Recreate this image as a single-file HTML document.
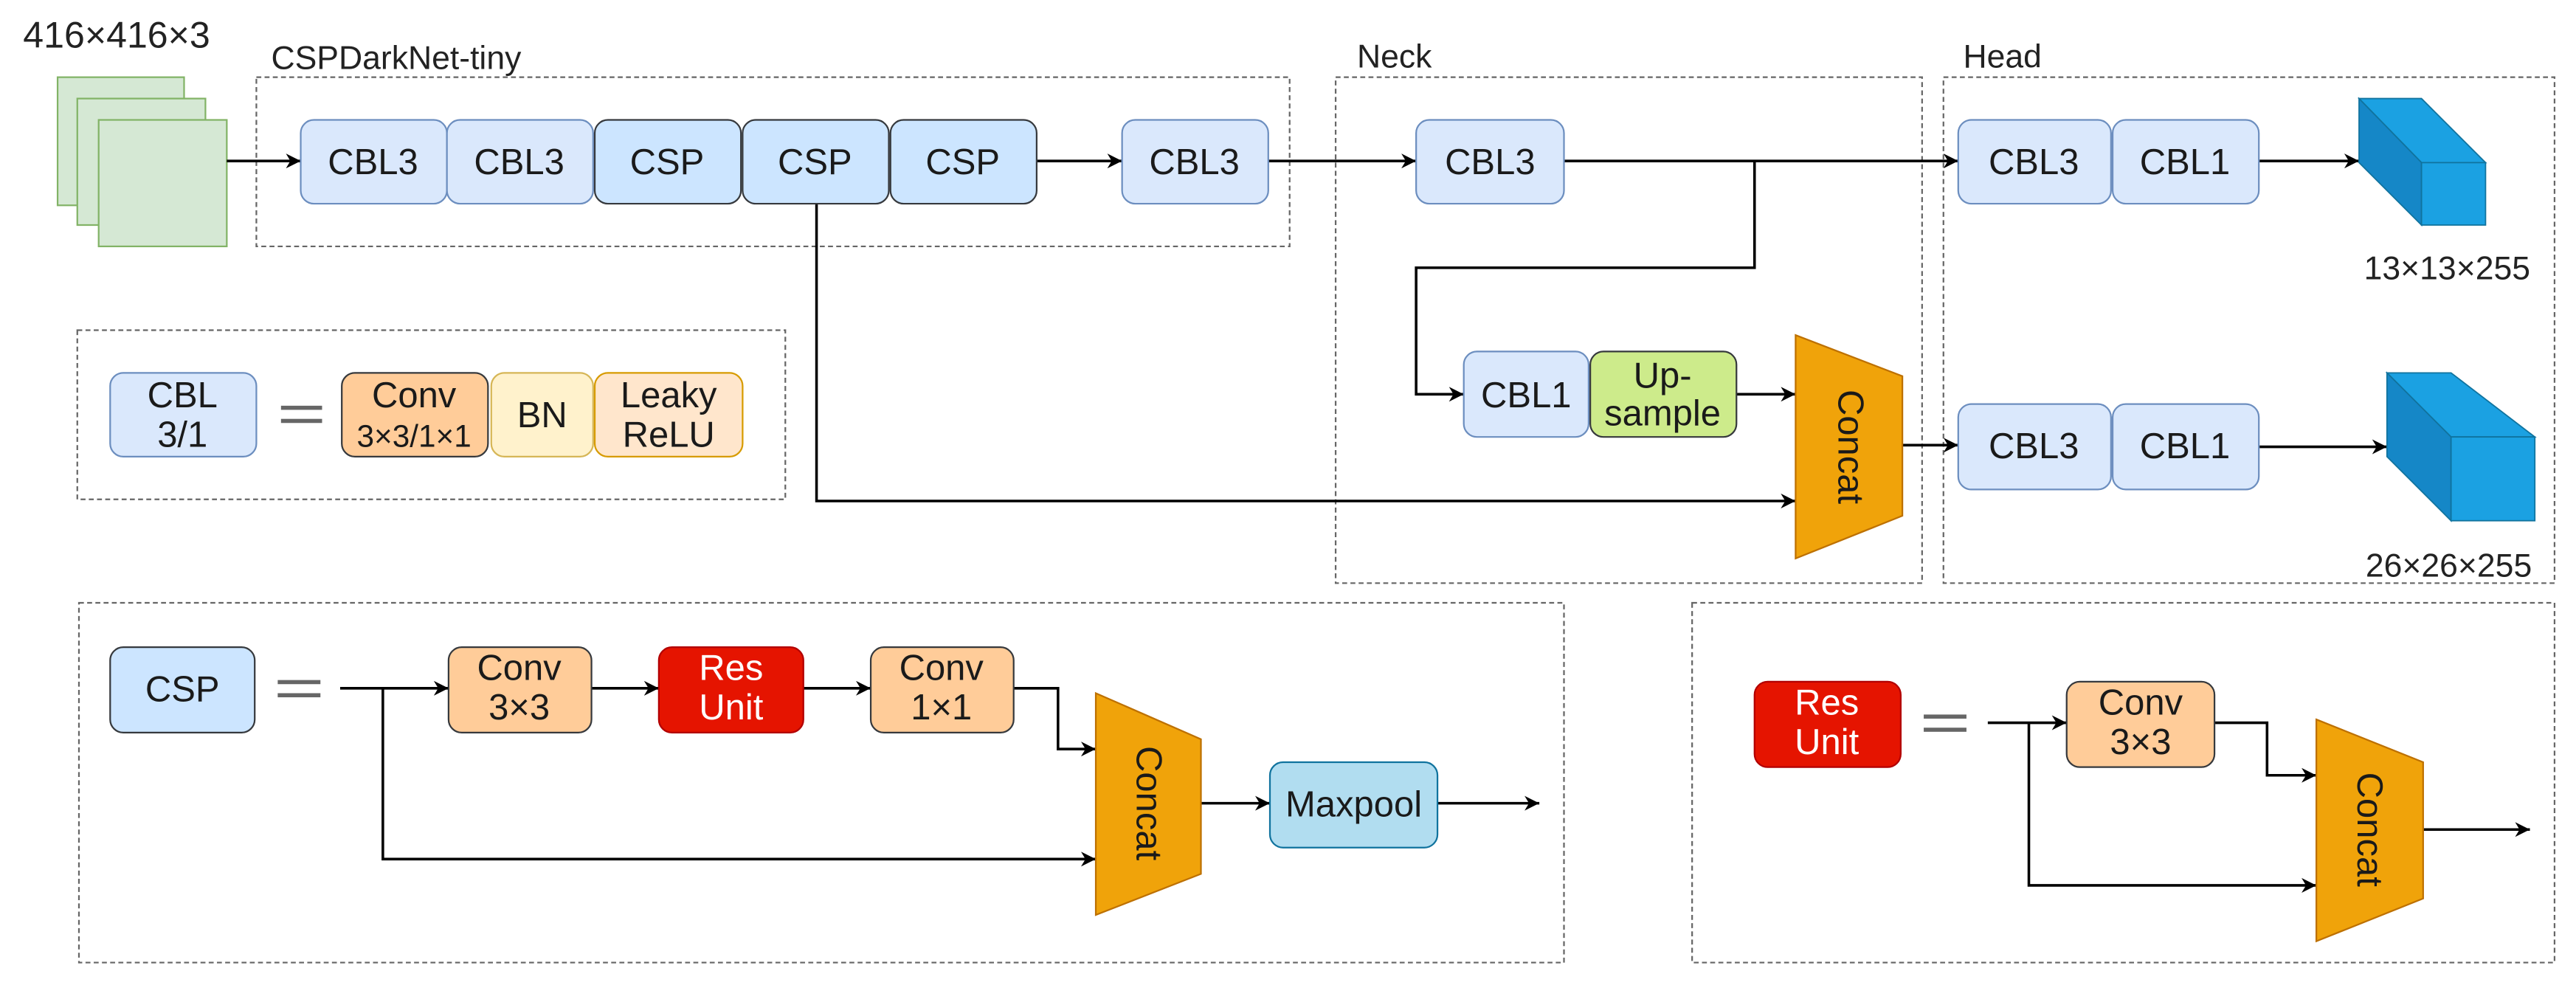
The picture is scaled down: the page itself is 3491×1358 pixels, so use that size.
<!DOCTYPE html>
<html><head><meta charset="utf-8"><style>html,body{margin:0;padding:0;background:#fff;}svg{display:block}</style></head>
<body>
<svg xmlns="http://www.w3.org/2000/svg" width="3491" height="1358" viewBox="0 0 1568 610" font-family="Liberation Sans, Arial, sans-serif">
<defs>
<marker id="b" viewBox="0 0 10 10" refX="10" refY="5" markerWidth="9" markerHeight="9" orient="auto" markerUnits="userSpaceOnUse"><path d="M0,0 L10,5 L0,10 L3,5 z" fill="#000"/></marker>
</defs>
<rect width="1568" height="610" fill="#fff"/>
<g fill="none" stroke="#666" stroke-width="1" stroke-dasharray="3,2">
<rect x="156" y="47" width="629" height="103"/>
<rect x="47" y="201" width="431" height="103"/>
<rect x="813" y="47" width="357" height="308"/>
<rect x="1183" y="47" width="372" height="308"/>
<rect x="48" y="367" width="904" height="219"/>
<rect x="1030" y="367" width="525" height="219"/>
</g>
<g font-size="19" fill="#222">
<text x="14" y="29" font-size="22.5">416×416×3</text>
<text x="165" y="42" font-size="20">CSPDarkNet-tiny</text>
<text x="826" y="41" font-size="20">Neck</text>
<text x="1195" y="41" font-size="20">Head</text>
<text x="1439" y="170" font-size="20">13×13×255</text>
<text x="1440" y="351" font-size="20">26×26×255</text>
</g>
<g stroke="#82b366" fill="#d5e8d4">
<rect x="35" y="47" width="77" height="78"/>
<rect x="47" y="60" width="78" height="77"/>
<rect x="60" y="73" width="78" height="77"/>
</g>
<g stroke="#000" stroke-width="1.6" fill="none">
<line x1="138" y1="98" x2="183" y2="98" marker-end="url(#b)"/>
<line x1="631" y1="98" x2="683" y2="98" marker-end="url(#b)"/>
<line x1="772" y1="98" x2="862" y2="98" marker-end="url(#b)"/>
<line x1="952" y1="98" x2="1192" y2="98" marker-end="url(#b)"/>
<polyline points="1068,98 1068,163 862,163 862,240 891,240" marker-end="url(#b)"/>
<line x1="1057" y1="240" x2="1093" y2="240" marker-end="url(#b)"/>
<polyline points="497,124 497,305 1093,305" marker-end="url(#b)"/>
<line x1="1158" y1="271" x2="1192" y2="271" marker-end="url(#b)"/>
<line x1="1375" y1="98" x2="1436" y2="98" marker-end="url(#b)"/>
<line x1="1375" y1="272" x2="1453" y2="272" marker-end="url(#b)"/>
<line x1="207" y1="419" x2="273" y2="419" marker-end="url(#b)"/>
<line x1="360" y1="419" x2="401" y2="419" marker-end="url(#b)"/>
<line x1="489" y1="419" x2="530" y2="419" marker-end="url(#b)"/>
<polyline points="617,419 644,419 644,456 667,456" marker-end="url(#b)"/>
<polyline points="233,419 233,523 667,523" marker-end="url(#b)"/>
<line x1="731" y1="489" x2="773" y2="489" marker-end="url(#b)"/>
<line x1="875" y1="489" x2="937" y2="489" marker-end="url(#b)"/>
<line x1="1210" y1="440" x2="1258" y2="440" marker-end="url(#b)"/>
<polyline points="1235,440 1235,539 1410,539" marker-end="url(#b)"/>
<polyline points="1348,440 1380,440 1380,472 1410,472" marker-end="url(#b)"/>
<line x1="1475" y1="505" x2="1540" y2="505" marker-end="url(#b)"/>
</g>
<g font-size="22" text-anchor="middle" fill="#1a1a1a">
<g stroke="#6c8ebf" fill="#dae8fc">
<rect x="183" y="73" width="89" height="51" rx="8"/>
<rect x="272" y="73" width="89" height="51" rx="8"/>
<rect x="683" y="73" width="89" height="51" rx="8"/>
<rect x="862" y="73" width="90" height="51" rx="8"/>
<rect x="1192" y="73" width="93" height="51" rx="8"/>
<rect x="1286" y="73" width="89" height="51" rx="8"/>
<rect x="1192" y="246" width="93" height="52" rx="8"/>
<rect x="1286" y="246" width="89" height="52" rx="8"/>
<rect x="891" y="214" width="76" height="52" rx="8"/>
<rect x="67" y="227" width="89" height="51" rx="8"/>
</g>
<g stroke="#36393d" fill="#cce5ff">
<rect x="362" y="73" width="89" height="51" rx="8"/>
<rect x="452" y="73" width="89" height="51" rx="8"/>
<rect x="542" y="73" width="89" height="51" rx="8"/>
<rect x="67" y="394" width="88" height="52" rx="8"/>
</g>
<rect x="968" y="214" width="89" height="52" rx="8" fill="#cdeb8b" stroke="#36393d"/>
<rect x="208" y="227" width="89" height="51" rx="8" fill="#ffcc99" stroke="#36393d"/>
<rect x="299" y="227" width="62" height="51" rx="8" fill="#fff2cc" stroke="#d6b656"/>
<rect x="362" y="227" width="90" height="51" rx="8" fill="#ffe6cc" stroke="#d79b00"/>
<rect x="273" y="394" width="87" height="52" rx="8" fill="#ffcc99" stroke="#36393d"/>
<rect x="530" y="394" width="87" height="52" rx="8" fill="#ffcc99" stroke="#36393d"/>
<rect x="1258" y="415" width="90" height="52" rx="8" fill="#ffcc99" stroke="#36393d"/>
<rect x="401" y="394" width="88" height="52" rx="8" fill="#e51400" stroke="#b20000"/>
<rect x="1068" y="415" width="89" height="52" rx="8" fill="#e51400" stroke="#b20000"/>
<rect x="773" y="464" width="102" height="52" rx="8" fill="#b1ddf0" stroke="#10739e"/>
<polygon points="1093,204 1158,229 1158,314 1093,340" fill="#f0a30a" stroke="#bd7000"/>
<polygon points="667,422 731,450 731,532 667,557" fill="#f0a30a" stroke="#bd7000"/>
<polygon points="1410,438 1475,464 1475,547 1410,573" fill="#f0a30a" stroke="#bd7000"/>
<text x="227" y="106">CBL3</text>
<text x="316" y="106">CBL3</text>
<text x="406" y="106">CSP</text>
<text x="496" y="106">CSP</text>
<text x="586" y="106">CSP</text>
<text x="727" y="106">CBL3</text>
<text x="907" y="106">CBL3</text>
<text x="1238" y="106">CBL3</text>
<text x="1330" y="106">CBL1</text>
<text x="1238" y="279">CBL3</text>
<text x="1330" y="279">CBL1</text>
<text x="929" y="248">CBL1</text>
<text x="1012" y="236">Up-</text>
<text x="1012" y="259">sample</text>
<text x="111" y="248">CBL</text>
<text x="111" y="272">3/1</text>
<text x="252" y="248">Conv</text>
<text x="252" y="272" font-size="19">3×3/1×1</text>
<text x="330" y="260">BN</text>
<text x="407" y="248">Leaky</text>
<text x="407" y="272">ReLU</text>
<text x="111" y="427">CSP</text>
<text x="316" y="414">Conv</text>
<text x="316" y="438">3×3</text>
<text x="445" y="414" fill="#fff">Res</text>
<text x="445" y="438" fill="#fff">Unit</text>
<text x="573" y="414">Conv</text>
<text x="573" y="438">1×1</text>
<text x="824" y="497">Maxpool</text>
<text x="1112" y="435" fill="#fff">Res</text>
<text x="1112" y="459" fill="#fff">Unit</text>
<text x="1303" y="435">Conv</text>
<text x="1303" y="459">3×3</text>
<text transform="translate(1119,272) rotate(90)">Concat</text>
<text transform="translate(692,489) rotate(90)">Concat</text>
<text transform="translate(1435,505) rotate(90)">Concat</text>
</g>
<g fill="#666">
<rect x="171" y="247" width="25" height="2.5"/><rect x="171" y="255" width="25" height="2.5"/>
<rect x="169" y="414" width="26" height="2.5"/><rect x="169" y="422" width="26" height="2.5"/>
<rect x="1171" y="435" width="26" height="2.5"/><rect x="1171" y="443" width="26" height="2.5"/>
</g>
<g stroke="#10739e" stroke-width="0.8">
<polygon points="1436,60 1474,60 1513,99 1474,99" fill="#1ba1e2"/>
<polygon points="1436,60 1474,99 1474,137 1436,99" fill="#1587c7"/>
<rect x="1474" y="99" width="39" height="38" fill="#1ba1e2"/>
<polygon points="1453,227 1492,227 1543,266 1492,266" fill="#1ba1e2"/>
<polygon points="1453,227 1492,266 1492,317 1453,278" fill="#1587c7"/>
<rect x="1492" y="266" width="51" height="51" fill="#1ba1e2"/>
</g>
</svg>
</body></html>
